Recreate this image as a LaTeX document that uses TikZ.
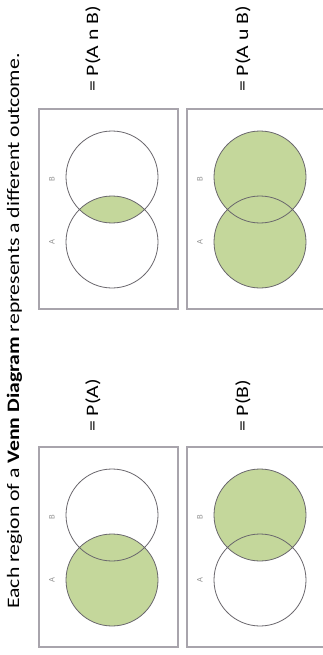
\documentclass[tikz,border=0pt]{standalone}
\usepackage{fontspec}
\setmainfont{Carlito}
\definecolor{vgreen}{RGB}{196,215,155}
\definecolor{boxgray}{RGB}{168,164,172}
\definecolor{circgray}{RGB}{105,102,108}
\definecolor{lblgray}{RGB}{150,150,150}
\newcommand{\widetext}[1]{\scalebox{1.24}[1]{#1}}
\tikzset{
  panelbox/.style={draw=boxgray, line width=1.1pt},
  vcirc/.style={draw=circgray, line width=0.8pt},
  setlbl/.style={text=lblgray, font=\fontsize{8.5}{10}\selectfont, rotate=90, inner sep=0pt},
  eqlbl/.style={font=\fontsize{17.5}{20}\selectfont, rotate=90, anchor=base west, inner sep=0pt},
}
\begin{document}
\begin{tikzpicture}[x=1pt,y=-1pt]
\useasboundingbox (0,0) rectangle (323,655);
\clip (0,0) rectangle (323,655);
\fill[white] (0,0) rectangle (323,655);

% title
\node[eqlbl] (title) at (19,609)
  {\widetext{Each region of a \textbf{Venn Diagram} represents a different outcome.}};

% Panel 1: intersection
\begin{scope}[shift={(0,0)}]
  \draw[panelbox] (39,109) rectangle (178,309);
  \begin{scope}
    \clip (112,177) circle (46);
    \fill[vgreen] (112,242) circle (46);
  \end{scope}
  \draw[vcirc] (112,177) circle (46);
  \draw[vcirc] (112,242) circle (46);
  \node[setlbl] (a1) at (52,242) {A};
  \node[setlbl] (b1) at (52,179) {B};
\end{scope}
\node[eqlbl] (l1) at (98,92) {\widetext{= P(A n B)}};

% Panel 2: union
\begin{scope}[shift={(148,0)}]
  \draw[panelbox] (39,109) rectangle (190,309);
  \fill[vgreen] (112,177) circle (46);
  \fill[vgreen] (112,242) circle (46);
  \draw[vcirc] (112,177) circle (46);
  \draw[vcirc] (112,242) circle (46);
  \node[setlbl] (a2) at (52,242) {A};
  \node[setlbl] (b2) at (52,179) {B};
\end{scope}
\node[eqlbl] (l2) at (248,92) {\widetext{= P(A u B)}};

% Panel 3: A
\begin{scope}[shift={(0,338)}]
  \draw[panelbox] (39,109) rectangle (178,309);
  \fill[vgreen] (112,242) circle (46);
  \draw[vcirc] (112,177) circle (46);
  \draw[vcirc] (112,242) circle (46);
  \node[setlbl] (a3) at (52,242) {A};
  \node[setlbl] (b3) at (52,179) {B};
\end{scope}
\node[eqlbl] (l3) at (98,432) {\widetext{= P(A)}};

% Panel 4: B
\begin{scope}[shift={(148,338)}]
  \draw[panelbox] (39,109) rectangle (190,309);
  \fill[vgreen] (112,177) circle (46);
  \draw[vcirc] (112,177) circle (46);
  \draw[vcirc] (112,242) circle (46);
  \node[setlbl] (a4) at (52,242) {A};
  \node[setlbl] (b4) at (52,179) {B};
\end{scope}
\node[eqlbl] (l4) at (248,432) {\widetext{= P(B)}};
\end{tikzpicture}
\end{document}
